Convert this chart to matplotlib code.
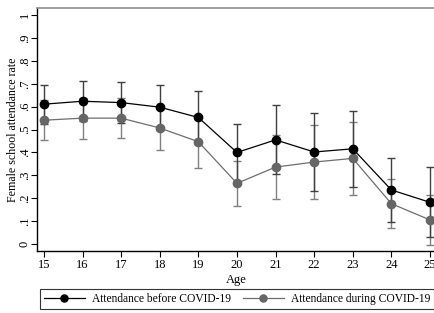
import matplotlib
matplotlib.use("Agg")
import matplotlib.pyplot as plt

plt.rcParams["font.family"] = ["Liberation Serif", "DejaVu Serif"]

# data
ages = [15, 16, 17, 18, 19, 20, 21, 22, 23, 24, 25]
before = [0.611, 0.624, 0.618, 0.598, 0.553, 0.400, 0.455, 0.402, 0.416, 0.236, 0.182]
before_lo = [0.526, 0.536, 0.530, 0.500, 0.438, 0.277, 0.304, 0.233, 0.248, 0.095, 0.030]
before_hi = [0.696, 0.712, 0.706, 0.696, 0.668, 0.523, 0.606, 0.571, 0.582, 0.377, 0.336]
during = [0.541, 0.550, 0.550, 0.507, 0.447, 0.265, 0.336, 0.358, 0.374, 0.176, 0.105]
during_lo = [0.454, 0.461, 0.463, 0.409, 0.334, 0.165, 0.198, 0.195, 0.214, 0.071, -0.004]
during_hi = [0.628, 0.640, 0.640, 0.605, 0.560, 0.364, 0.476, 0.522, 0.534, 0.282, 0.214]
ytick_vals = [0, 0.1, 0.2, 0.3, 0.4, 0.5, 0.6, 0.7, 0.8, 0.9, 1.0]
ytick_labels = ["0", ".1", ".2", ".3", ".4", ".5", ".6", ".7", ".8", ".9", "1"]

fig = plt.figure(figsize=(4.35, 3.13), dpi=100)
ax = fig.add_axes([0.085, 0.198, 0.915, 0.776])


def err(vals, lo, hi):
    return [[v - l for v, l in zip(vals, lo)], [h - v for v, h in zip(vals, hi)]]


ax.errorbar(ages, during, yerr=err(during, during_lo, during_hi), fmt="none",
            ecolor="#808080", elinewidth=1.0, capsize=3, capthick=1.0, zorder=2)
ax.errorbar(ages, before, yerr=err(before, before_lo, before_hi), fmt="none",
            ecolor="#404040", elinewidth=1.0, capsize=3, capthick=1.0, zorder=3)
ax.plot(ages, during, color="#6e6e6e", lw=0.9, marker="o", ms=6,
        mfc="#666666", mec="#666666", label="Attendance during COVID-19", zorder=4)
ax.plot(ages, before, color="black", lw=0.9, marker="o", ms=6,
        mfc="black", mec="black", label="Attendance before COVID-19", zorder=5)

ax.set_xlim(14.82, 25.13)
ax.set_ylim(-0.031, 1.031)
ax.set_xticks(ages)
ax.set_xticklabels([str(a) for a in ages], fontsize=9)
ax.set_yticks(ytick_vals)
ax.set_yticklabels(ytick_labels, rotation=90, va="center", fontsize=9)
ax.tick_params(direction="out", length=4, width=0.8, color="black", pad=2)
ax.tick_params(axis="y", pad=0.5)
ax.set_xlabel("Age", fontsize=9, labelpad=2)
ax.set_ylabel("Female school attendance rate", fontsize=8.6)
ax.yaxis.set_label_coords(-0.045, 0.5)

ax.spines["right"].set_visible(False)
ax.spines["top"].set_color("#909090")
ax.spines["top"].set_linewidth(1.2)
ax.spines["left"].set_linewidth(1.0)
ax.spines["bottom"].set_linewidth(1.0)

h, l = ax.get_legend_handles_labels()
leg = fig.legend(h[::-1], l[::-1], loc="center", bbox_to_anchor=(0.545, 0.046), ncol=2,
                 fontsize=8.3, frameon=True, fancybox=False, edgecolor="black",
                 handlelength=3.6, columnspacing=1.0, borderpad=0.35, handletextpad=0.6,
                 markerscale=0.85)
leg.get_frame().set_linewidth(0.8)

fig.savefig("out.png", dpi=100)
